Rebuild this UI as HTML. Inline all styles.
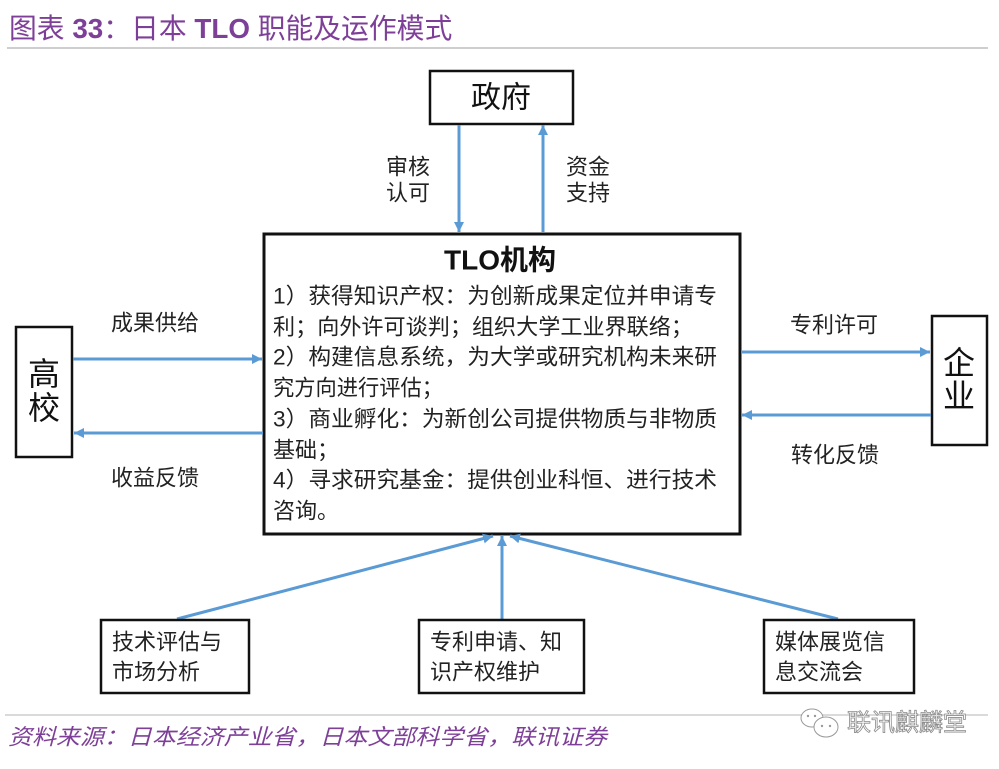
<!DOCTYPE html>
<html>
<head>
<meta charset="utf-8">
<style>
  html,body{margin:0;padding:0;background:#fff;}
  body{width:999px;height:769px;overflow:hidden;}
  svg{display:block;}
  text{font-family:"Liberation Sans","Noto Sans CJK SC",sans-serif;}
</style>
</head>
<body>
<svg width="999" height="769" viewBox="0 0 999 769" xmlns="http://www.w3.org/2000/svg">
  <defs>
    <marker id="ah" markerUnits="userSpaceOnUse" markerWidth="12" markerHeight="12" refX="10" refY="5" orient="auto">
      <path d="M0,0 L10,5 L0,10 z" fill="#5b9bd5"/>
    </marker>
  </defs>

  <!-- Title -->
  <text x="9" y="28" dominant-baseline="central" font-size="27.8" fill="#7e3f98"><tspan>图表 </tspan><tspan font-weight="bold">33</tspan><tspan>：日本 </tspan><tspan font-weight="bold">TLO</tspan><tspan> 职能及运作模式</tspan></text>
  <line x1="7" y1="48" x2="988" y2="48" stroke="#bdbdbd" stroke-width="1.5"/>

  <!-- 政府 -->
  <rect x="430" y="71" width="143" height="53" fill="#fff" stroke="#111" stroke-width="2.5"/>
  <text x="501" y="98" dominant-baseline="central" text-anchor="middle" font-size="30" fill="#111">政府</text>

  <!-- gov arrows -->
  <line x1="459" y1="125" x2="459" y2="232" stroke="#5b9bd5" stroke-width="3" marker-end="url(#ah)"/>
  <line x1="543" y1="232" x2="543" y2="125" stroke="#5b9bd5" stroke-width="3" marker-end="url(#ah)"/>
  <text x="408" y="167" dominant-baseline="central" text-anchor="middle" font-size="22" fill="#222">审核</text>
  <text x="408" y="193" dominant-baseline="central" text-anchor="middle" font-size="22" fill="#222">认可</text>
  <text x="588" y="167" dominant-baseline="central" text-anchor="middle" font-size="22" fill="#222">资金</text>
  <text x="588" y="193" dominant-baseline="central" text-anchor="middle" font-size="22" fill="#222">支持</text>

  <!-- TLO box -->
  <rect x="264" y="234" width="476" height="300" fill="#fff" stroke="#111" stroke-width="3"/>
  <text x="500" y="260" dominant-baseline="central" text-anchor="middle" font-size="28" font-weight="bold" fill="#111">TLO机构</text>
  <g font-size="22" fill="#222">
    <text x="273" y="296" dominant-baseline="central" textLength="444" lengthAdjust="spacingAndGlyphs">1）获得知识产权：为创新成果定位并申请专</text>
    <text x="273" y="327" dominant-baseline="central" textLength="420" lengthAdjust="spacingAndGlyphs">利；向外许可谈判；组织大学工业界联络；</text>
    <text x="273" y="357" dominant-baseline="central" textLength="444" lengthAdjust="spacingAndGlyphs">2）构建信息系统，为大学或研究机构未来研</text>
    <text x="273" y="388" dominant-baseline="central" textLength="170" lengthAdjust="spacingAndGlyphs">究方向进行评估；</text>
    <text x="273" y="419" dominant-baseline="central" textLength="444" lengthAdjust="spacingAndGlyphs">3）商业孵化：为新创公司提供物质与非物质</text>
    <text x="273" y="450" dominant-baseline="central">基础；</text>
    <text x="273" y="480" dominant-baseline="central" textLength="444" lengthAdjust="spacingAndGlyphs">4）寻求研究基金：提供创业科恒、进行技术</text>
    <text x="273" y="511" dominant-baseline="central">咨询。</text>
  </g>

  <!-- 高校 -->
  <rect x="16" y="327" width="56" height="130" fill="#fff" stroke="#111" stroke-width="2.5"/>
  <text x="44" y="374" dominant-baseline="central" text-anchor="middle" font-size="32" fill="#111">高</text>
  <text x="44" y="408" dominant-baseline="central" text-anchor="middle" font-size="32" fill="#111">校</text>
  <line x1="73" y1="359" x2="262" y2="359" stroke="#5b9bd5" stroke-width="3" marker-end="url(#ah)"/>
  <line x1="263" y1="433" x2="74" y2="433" stroke="#5b9bd5" stroke-width="3" marker-end="url(#ah)"/>
  <text x="155" y="323" dominant-baseline="central" text-anchor="middle" font-size="22" fill="#222">成果供给</text>
  <text x="155" y="478" dominant-baseline="central" text-anchor="middle" font-size="22" fill="#222">收益反馈</text>

  <!-- 企业 -->
  <rect x="932" y="316" width="55" height="129" fill="#fff" stroke="#111" stroke-width="2.5"/>
  <text x="959" y="363" dominant-baseline="central" text-anchor="middle" font-size="32" fill="#111">企</text>
  <text x="959" y="396" dominant-baseline="central" text-anchor="middle" font-size="32" fill="#111">业</text>
  <line x1="741" y1="352" x2="930" y2="352" stroke="#5b9bd5" stroke-width="3" marker-end="url(#ah)"/>
  <line x1="931" y1="415" x2="742" y2="415" stroke="#5b9bd5" stroke-width="3" marker-end="url(#ah)"/>
  <text x="834" y="325" dominant-baseline="central" text-anchor="middle" font-size="22" fill="#222">专利许可</text>
  <text x="835" y="455" dominant-baseline="central" text-anchor="middle" font-size="22" fill="#222">转化反馈</text>

  <!-- bottom arrows -->
  <line x1="177" y1="619" x2="493" y2="536" stroke="#5b9bd5" stroke-width="3" marker-end="url(#ah)"/>
  <line x1="502" y1="619" x2="502" y2="536" stroke="#5b9bd5" stroke-width="3" marker-end="url(#ah)"/>
  <line x1="838" y1="619" x2="510" y2="536" stroke="#5b9bd5" stroke-width="3" marker-end="url(#ah)"/>

  <!-- bottom boxes -->
  <rect x="101" y="620" width="148" height="73" fill="#fff" stroke="#111" stroke-width="2.5"/>
  <text x="112" y="642" dominant-baseline="central" font-size="22" fill="#222">技术评估与</text>
  <text x="112" y="672" dominant-baseline="central" font-size="22" fill="#222">市场分析</text>

  <rect x="419" y="620" width="165" height="73" fill="#fff" stroke="#111" stroke-width="2.5"/>
  <text x="430" y="642" dominant-baseline="central" font-size="22" fill="#222">专利申请、知</text>
  <text x="430" y="672" dominant-baseline="central" font-size="22" fill="#222">识产权维护</text>

  <rect x="764" y="620" width="150" height="73" fill="#fff" stroke="#111" stroke-width="2.5"/>
  <text x="775" y="642" dominant-baseline="central" font-size="22" fill="#222">媒体展览信</text>
  <text x="775" y="672" dominant-baseline="central" font-size="22" fill="#222">息交流会</text>

  <!-- footer -->
  <line x1="5" y1="715" x2="988" y2="715" stroke="#c4c4c4" stroke-width="1.2"/>
  <text x="8" y="737" dominant-baseline="central" font-size="22" font-style="italic" fill="#7e3f98" textLength="599" lengthAdjust="spacingAndGlyphs">资料来源：日本经济产业省，日本文部科学省，联讯证券</text>

  <!-- watermark -->
  <g fill="#fff" stroke="#9a9a9a" stroke-width="1">
    <ellipse cx="812" cy="718" rx="11" ry="9"/>
    <ellipse cx="826" cy="727" rx="12" ry="10"/>
  </g>
  <g fill="#9a9a9a">
    <circle cx="808" cy="716" r="1.2"/><circle cx="815" cy="716" r="1.2"/>
    <circle cx="822" cy="726" r="1.2"/><circle cx="830" cy="726" r="1.2"/>
  </g>
  <text x="847" y="723" dominant-baseline="central" font-size="24" fill="#fff" stroke="#8a8a8a" stroke-width="0.8" textLength="120" lengthAdjust="spacingAndGlyphs">联讯麒麟堂</text>
</svg>
</body>
</html>
